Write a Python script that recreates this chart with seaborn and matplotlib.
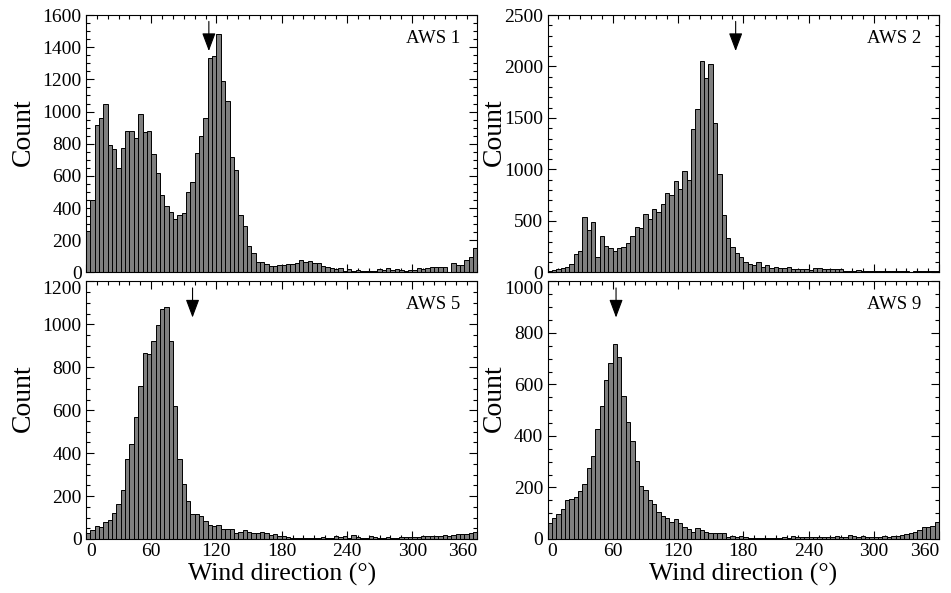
import pandas as pd
import seaborn as sns
from matplotlib import pyplot as plt
from matplotlib.ticker import MultipleLocator

# 4 degree bins over 0-360
bin_width = 4
edges = list(range(0, 360 + bin_width, bin_width))
centers = [e + bin_width / 2 for e in edges[:-1]]

aws1 = [260, 450, 915, 960, 1050, 795, 770, 650, 775, 880,
        880, 835, 985, 870, 882, 735, 620, 480, 415, 375,
        330, 355, 370, 500, 565, 745, 848, 960, 1330, 1345,
        1480, 1190, 1065, 720, 635, 355, 290, 162, 124, 66,
        66, 50, 42, 42, 48, 48, 50, 50, 62, 77,
        68, 73, 58, 62, 42, 33, 25, 19, 29, 12,
        21, 12, 17, 8, 8, 12, 10, 21, 17, 25,
        17, 21, 17, 12, 17, 17, 25, 23, 25, 37,
        33, 37, 35, 5, 56, 48, 48, 77, 95, 150]

aws2 = [10, 20, 35, 40, 55, 85, 175, 210, 540, 410,
        495, 150, 350, 255, 235, 205, 240, 250, 285, 350,
        445, 430, 565, 520, 615, 590, 665, 770, 755, 885,
        815, 985, 900, 1390, 1590, 2050, 1890, 2020, 1450, 960,
        555, 337, 243, 185, 146, 97, 84, 75, 97, 55,
        71, 45, 49, 42, 42, 58, 36, 32, 32, 36,
        26, 39, 39, 36, 36, 32, 32, 32, 19, 19,
        19, 23, 19, 10, 13, 16, 13, 10, 13, 10,
        13, 10, 13, 6, 13, 10, 13, 10, 19, 13]

aws5 = [30, 40, 59, 56, 81, 87, 123, 165, 230, 375,
        442, 569, 715, 866, 861, 925, 995, 1073, 1082, 924,
        622, 375, 258, 176, 118, 118, 105, 84, 65, 60,
        65, 45, 45, 46, 29, 34, 42, 33, 26, 29,
        31, 28, 20, 23, 12, 12, 8, 6, 5, 3,
        3, 3, 3, 5, 8, 5, 5, 14, 8, 14,
        5, 17, 11, 6, 6, 12, 11, 6, 6, 8,
        6, 5, 11, 11, 11, 11, 11, 12, 14, 14,
        12, 14, 20, 12, 20, 25, 23, 23, 28, 31]

aws9 = [62, 83, 96, 116, 153, 155, 163, 188, 212, 277,
        321, 428, 515, 618, 685, 758, 706, 554, 454, 382,
        303, 207, 189, 153, 137, 104, 88, 83, 65, 79,
        63, 45, 37, 28, 41, 35, 26, 22, 22, 22,
        22, 6, 12, 9, 12, 6, 4, 4, 3, 5,
        4, 5, 5, 4, 6, 5, 10, 8, 6, 8,
        6, 6, 8, 6, 8, 6, 12, 6, 6, 14,
        12, 6, 10, 6, 9, 6, 9, 12, 8, 10,
        12, 15, 18, 22, 28, 35, 45, 46, 52, 64]

stations = ['AWS 1', 'AWS 2', 'AWS 5', 'AWS 9']
counts_all = [aws1, aws2, aws5, aws9]
arrow_dir = [113, 173, 98, 63]
y_max = [1600, 2500, 1200, 1000]
y_major = [200, 500, 200, 200]
y_minor = [50, 100, 50, 50]

sns.set_theme(style='ticks')
plt.rcParams['font.family'] = ['Liberation Serif', 'DejaVu Serif']
plt.rcParams.update({'text.color': 'black', 'axes.labelcolor': 'black',
                     'xtick.labelcolor': 'black', 'ytick.labelcolor': 'black'})

fig, axes = plt.subplots(2, 2, figsize=(9.51, 5.93), dpi=100)
fig.subplots_adjust(left=0.0904, right=0.9874, top=0.9747, bottom=0.0911,
                    wspace=0.179, hspace=0.035)

for i, ax in enumerate(axes.flat):
    df = pd.DataFrame({'direction': centers, 'count': counts_all[i]})
    sns.histplot(data=df, x='direction', weights='count', bins=edges,
                 color='#7f7f7f', edgecolor='black', linewidth=0.7,
                 alpha=1, ax=ax)

    ax.set_xlim(0, 360)
    ax.set_ylim(0, y_max[i])
    ax.xaxis.set_major_locator(MultipleLocator(60))
    ax.xaxis.set_minor_locator(MultipleLocator(10))
    ax.yaxis.set_major_locator(MultipleLocator(y_major[i]))
    ax.yaxis.set_minor_locator(MultipleLocator(y_minor[i]))
    ax.tick_params(which='both', direction='in', top=True, right=True,
                   color='black', labelcolor='black', width=0.8,
                   labelsize=14, pad=3)
    ax.tick_params(which='major', length=6)
    ax.tick_params(which='minor', length=3)
    for sp in ax.spines.values():
        sp.set_color('black')
        sp.set_linewidth(0.8)

    ax.set_ylabel('Count', fontsize=20, color='black')
    ax.yaxis.set_label_coords(-0.128 if i % 2 == 0 else -0.103, 0.545)
    if i < 2:
        ax.tick_params(labelbottom=False)
        ax.set_xlabel('')
    else:
        ax.set_xlabel('Wind direction (°)', fontsize=18.5, labelpad=2,
                      color='black')

    ax.text(0.955, 0.91, stations[i], transform=ax.transAxes,
            ha='right', va='center', fontsize=13.5, color='black')
    ax.annotate('', xy=(arrow_dir[i], 0.86), xytext=(arrow_dir[i], 0.975),
                xycoords=('data', 'axes fraction'),
                textcoords=('data', 'axes fraction'),
                arrowprops=dict(arrowstyle='-|>,head_length=0.8,head_width=0.3',
                                color='black', lw=0.8, mutation_scale=14,
                                shrinkA=0, shrinkB=0))

fig.canvas.draw()

# edge tick labels sit inside the panel, as in the original figure
for i, ax in enumerate(axes.flat):
    if i < 2:
        continue
    ylocs = ax.yaxis.get_majorticklocs()
    for loc, tick in zip(ylocs, ax.yaxis.get_major_ticks(len(ylocs))):
        if loc == y_max[i]:
            tick.label1.set_va('top')
    xlocs = ax.xaxis.get_majorticklocs()
    for loc, tick in zip(xlocs, ax.xaxis.get_major_ticks(len(xlocs))):
        if loc == 0:
            tick.label1.set_ha('left')
        elif loc == 360:
            tick.label1.set_ha('right')

fig.savefig('out.png', dpi=100)
